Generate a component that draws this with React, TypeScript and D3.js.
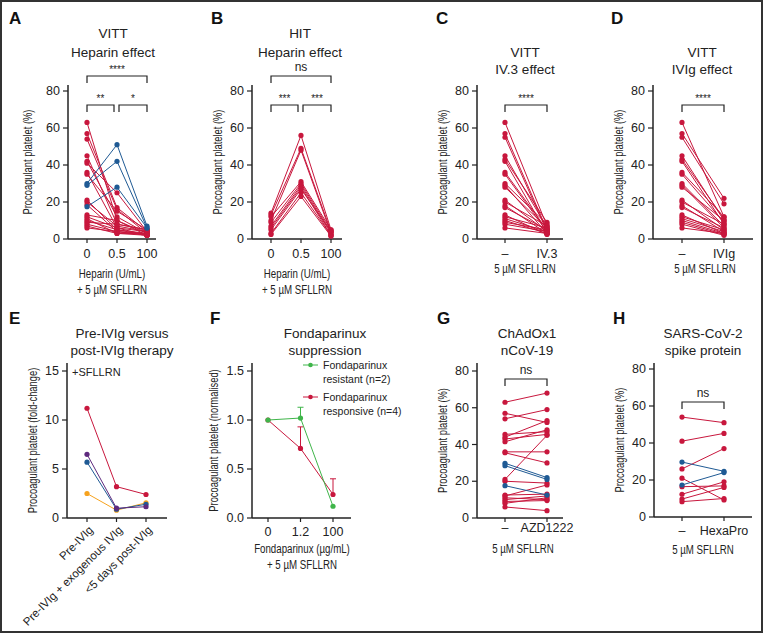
import React from 'react';
import * as d3 from 'd3';

// Colours picked from the figure.
const RED = '#c8173d';
const BLUE = '#1f5a94';
const GREEN = '#3fb54a';
const ORANGE = '#f6a21e';
const PURPLE = '#5e2a7e';
const INK = '#222';

const FONT = '"Liberation Sans", Arial, Helvetica, sans-serif';
// no condensed face installed, so axis titles are squeezed horizontally
const SQUEEZE = 0.72;

// ---- data ----
const heparinDoses = ['0', '0.5', '100'];
// VITT heparin effect: [0, 0.5, 100 U/mL]
const vittHeparinRed = [
  [63, 10, 3], [57, 17, 4], [54, 16, 3], [45, 8, 5], [42, 12, 3], [41, 25, 4], [36, 6, 2],
  [35, 15, 5], [21, 5, 2], [20, 7, 4], [18.5, 4, 3], [13, 10, 2], [12, 6, 4], [11, 3, 2],
  [10, 5, 3], [9, 8, 5], [8, 4, 2], [7, 3, 3], [6, 4, 2],
];
const vittHeparinBlue = [[30, 51, 7], [29, 42, 6], [17.5, 28, 6]];
// HIT heparin effect
const hitHeparin = [
  [14, 56, 5], [13, 49, 4], [10, 48, 3], [12, 31, 5], [9, 30, 4], [7, 29, 3], [6, 28, 2],
  [5, 27, 4], [3, 25, 2], [2.5, 23, 1.5],
];

const iv3Groups = ['–', 'IV.3'];
const vittIV3 = [
  [63, 7], [57, 5], [55, 4], [45, 6], [43, 9], [42, 3], [36, 5], [35, 4], [30, 8], [29, 3],
  [28, 6], [21, 4], [20, 7], [18, 3], [17, 5], [13, 2.5], [12, 6], [11, 4], [10, 3], [9, 5],
  [8, 4], [6, 3],
];

const ivigGroups = ['–', 'IVIg'];
const vittIVIg = [
  [63, 12], [57, 22], [55, 19], [45, 10], [43, 11], [42, 8], [36, 12], [35, 9], [30, 7], [29, 6],
  [28, 10], [21, 5], [20, 8], [18, 4], [17, 6], [13, 3], [12, 5], [11, 4], [10, 3], [9, 2.5],
  [8, 2], [6, 3],
];

const therapyGroups = ['Pre-IVIg', 'Pre-IVIg + exogenous IVIg', '<5 days post-IVIg'];
const therapyFoldChange = [
  [2.5, 0.8, 1.55],
  [5.7, 0.9, 1.4],
  [6.5, 1.0, 1.15],
  [11.2, 3.2, 2.4],
];
const therapyColors = [ORANGE, BLUE, PURPLE, RED];

const fondaDoses = ['0', '1.2', '100'];
const fondaResistant = [1.0, 1.02, 0.12];
const fondaResistantErr = [0, 0.11, 0];
const fondaResponsive = [1.0, 0.71, 0.24];
const fondaResponsiveErr = [0, 0.22, 0.16];

const chadoxGroups = ['–', 'AZD1222'];
const chadoxRed = [
  [63, 68], [57, 52], [54, 59], [45.5, 47], [44, 53], [43, 45.5], [41.5, 48], [36, 36], [35.5, 30],
  [21, 45], [20, 19], [12.5, 13], [11, 10], [10, 12], [9, 9.5], [8, 11], [6, 4], [12, 18],
];
const chadoxBlue = [[29.8, 22], [28.5, 21], [17.6, 12.5]];

const spikeGroups = ['–', 'HexaPro'];
const spikeRed = [
  [54, 51], [41, 45.2], [26, 37], [21, 9.2], [16.4, 16.8], [12.3, 19], [9.7, 16], [8.3, 10],
];
const spikeBlue = [[29.7, 24.7], [17.3, 24]];

const pctTicks = [0, 20, 40, 60, 80];
const foldTicks = [0, 5, 10, 15];
const normTicks = [0, 0.5, 1.0, 1.5];

// ---- pieces ----
type Lin = d3.ScaleLinear<number, number>;
type Pt = d3.ScalePoint<string>;

function Narrow(props: { x: number; y: number; t: string; rotate?: boolean; size?: number }) {
  const rot = props.rotate ? ' rotate(-90)' : '';
  return (
    <g transform={`translate(${props.x},${props.y})${rot} scale(${SQUEEZE},1)`}>
      <text x={0} y={0} textAnchor="middle" dominantBaseline={props.rotate ? 'central' : undefined}
        fontFamily={FONT} fontSize={props.size ?? 13.5} fill={INK}>{props.t}</text>
    </g>
  );
}

function Frame(props: {
  x: Pt; y: Lin; left: number; right: number; top: number; ticks: number[];
  fmt?: (v: number) => string; yLabel: string; yLabelX: number; tickDy: number; rotate?: boolean;
}) {
  const { x, y, left, right, top, ticks, fmt, yLabel, yLabelX, tickDy, rotate } = props;
  const bottom = y(0);
  const midY = (top + bottom) / 2;
  return (
    <g>
      <line x1={left} x2={left} y1={top} y2={bottom} stroke={INK} strokeWidth={1.5} />
      <line x1={left} x2={right} y1={bottom} y2={bottom} stroke={INK} strokeWidth={1.5} />
      {ticks.map((t) => (
        <g key={t}>
          <line x1={left - 5} x2={left} y1={y(t)} y2={y(t)} stroke={INK} strokeWidth={1.2} />
          <text x={left - 8} y={y(t)} textAnchor="end" dominantBaseline="central"
            fontFamily={FONT} fontSize={12.5} fill={INK}>{fmt ? fmt(t) : t}</text>
        </g>
      ))}
      {x.domain().map((c) => (
        <g key={c}>
          <line x1={x(c)} x2={x(c)} y1={bottom} y2={bottom + 4} stroke={INK} strokeWidth={1.2} />
          {rotate ? (
            <text transform={`translate(${x(c)! + 4},${bottom + 10}) rotate(-45)`} textAnchor="end"
              dominantBaseline="central" fontFamily={FONT} fontSize={11.5} fill={INK}>{c}</text>
          ) : (
            <text x={x(c)} y={bottom + tickDy} textAnchor="middle" fontFamily={FONT}
              fontSize={12.5} fill={INK}>{c}</text>
          )}
        </g>
      ))}
      <Narrow x={yLabelX} y={midY} t={yLabel} rotate size={13} />
    </g>
  );
}

function Paired(props: { data: number[][]; x: Pt; y: Lin; color: string; r?: number }) {
  const { data, x, y, color } = props;
  const cats = x.domain();
  const line = d3.line<number>().x((_, i) => x(cats[i])!).y((v) => y(v));
  return (
    <g>
      {data.map((s, i) => (
        <g key={i}>
          <path d={line(s) ?? ''} fill="none" stroke={color} strokeWidth={1} />
          {s.map((v, j) => (
            <circle key={j} cx={x(cats[j])} cy={y(v)} r={props.r ?? 2.6} fill={color} />
          ))}
        </g>
      ))}
    </g>
  );
}

function Bracket(props: { x1: number; x2: number; y: number; label: string; stars?: boolean }) {
  const { x1, x2, y, label, stars } = props;
  return (
    <g>
      <path d={`M${x1},${y + 7}V${y}H${x2}V${y + 7}`} fill="none" stroke={INK} strokeWidth={1.2} />
      <text x={(x1 + x2) / 2} y={stars ? y - 3 : y - 5} textAnchor="middle" fontFamily={FONT}
        fontSize={stars ? 10 : 12} fill={INK}>{label}</text>
    </g>
  );
}

function Lines(props: { x: number; ys: number[]; lines: string[]; size?: number; anchor?: string }) {
  return (
    <g>
      {props.lines.map((l, i) => (
        <text key={i} x={props.x} y={props.ys[i]} textAnchor={props.anchor ?? 'middle'}
          fontFamily={FONT} fontSize={props.size ?? 13.5} fill={INK}>{l}</text>
      ))}
    </g>
  );
}

function XTitle(props: { x: number; ys: number[]; lines: string[] }) {
  return (
    <g>
      {props.lines.map((l, i) => <Narrow key={i} x={props.x} y={props.ys[i]} t={l} />)}
    </g>
  );
}

function Letter(props: { x: number; y: number; t: string }) {
  return (
    <text x={props.x} y={props.y} fontFamily={FONT} fontWeight="bold" fontSize={17} fill="#111">{props.t}</text>
  );
}

export default function App() {
  // top row scales
  const yA = d3.scaleLinear().domain([0, 80]).range([239, 91]);
  const xA = d3.scalePoint<string>().domain(heparinDoses).range([87, 147]);
  const xB = d3.scalePoint<string>().domain(heparinDoses).range([271, 331]);
  const xC = d3.scalePoint<string>().domain(iv3Groups).range([505, 547]);
  const xD = d3.scalePoint<string>().domain(ivigGroups).range([682, 724]);
  // bottom row scales
  const yE = d3.scaleLinear().domain([0, 15]).range([518, 371]);
  const xE = d3.scalePoint<string>().domain(therapyGroups).range([87, 146]);
  const yF = d3.scaleLinear().domain([0, 1.5]).range([518, 371]);
  const xF = d3.scalePoint<string>().domain(fondaDoses).range([268, 333]);
  const yG = d3.scaleLinear().domain([0, 80]).range([518, 371]);
  const xG = d3.scalePoint<string>().domain(chadoxGroups).range([505, 547]);
  const yH = d3.scaleLinear().domain([0, 80]).range([517, 369]);
  const xH = d3.scalePoint<string>().domain(spikeGroups).range([682, 724]);

  const fLine = d3.line<number>().x((_, i) => xF(fondaDoses[i])!).y((v) => yF(v));
  const yLabel = 'Procoagulant platelet (%)';

  return (
    <svg width={763} height={633} style={{ position: 'absolute', left: 0, top: 0, background: '#fff' }}>
      <rect x={1} y={1} width={761} height={631} fill="#fff" stroke="#333" strokeWidth={2} />

      {/* A */}
      <Letter x={9} y={24} t="A" />
      <Lines x={113} ys={[38, 57]} lines={['VITT', 'Heparin effect']} />
      <Frame x={xA} y={yA} left={68} right={156} top={85} ticks={pctTicks} yLabel={yLabel} yLabelX={27} tickDy={19} />
      <Paired data={vittHeparinRed} x={xA} y={yA} color={RED} />
      <Paired data={vittHeparinBlue} x={xA} y={yA} color={BLUE} />
      <Bracket x1={87} x2={147} y={76} label="****" stars />
      <Bracket x1={87} x2={114} y={105} label="**" stars />
      <Bracket x1={119} x2={147} y={105} label="*" stars />
      <XTitle x={112} ys={[278, 294]} lines={['Heparin (U/mL)', '+ 5 µM SFLLRN']} />

      {/* B */}
      <Letter x={211} y={24} t="B" />
      <Lines x={300} ys={[38, 57]} lines={['HIT', 'Heparin effect']} />
      <Frame x={xB} y={yA} left={252} right={342} top={85} ticks={pctTicks} yLabel={yLabel} yLabelX={217} tickDy={19} />
      <Paired data={hitHeparin} x={xB} y={yA} color={RED} />
      <Bracket x1={271} x2={331} y={76} label="ns" />
      <Bracket x1={271} x2={298} y={105} label="***" stars />
      <Bracket x1={303} x2={331} y={105} label="***" stars />
      <XTitle x={297} ys={[278, 294]} lines={['Heparin (U/mL)', '+ 5 µM SFLLRN']} />

      {/* C */}
      <Letter x={436} y={24} t="C" />
      <Lines x={525} ys={[57, 74]} lines={['VITT', 'IV.3 effect']} />
      <Frame x={xC} y={yA} left={477} right={563} top={85} ticks={pctTicks} yLabel={yLabel} yLabelX={442} tickDy={19} />
      <Paired data={vittIV3} x={xC} y={yA} color={RED} />
      <Bracket x1={505} x2={547} y={105} label="****" stars />
      <XTitle x={525} ys={[273]} lines={['5 µM SFLLRN']} />

      {/* D */}
      <Letter x={611} y={24} t="D" />
      <Lines x={702} ys={[57, 74]} lines={['VITT', 'IVIg effect']} />
      <Frame x={xD} y={yA} left={653} right={753} top={85} ticks={pctTicks} yLabel={yLabel} yLabelX={618} tickDy={19} />
      <Paired data={vittIVIg} x={xD} y={yA} color={RED} />
      <Bracket x1={682} x2={724} y={105} label="****" stars />
      <XTitle x={705} ys={[273]} lines={['5 µM SFLLRN']} />

      {/* E */}
      <Letter x={9} y={324} t="E" />
      <Lines x={122} ys={[338, 355]} lines={['Pre-IVIg versus', 'post-IVIg therapy']} />
      <Frame x={xE} y={yE} left={67} right={167} top={363} ticks={foldTicks}
        yLabel="Procoagulant platelet (fold-change)" yLabelX={32} tickDy={19} rotate />
      {therapyFoldChange.map((s, i) => (
        <Paired key={i} data={[s]} x={xE} y={yE} color={therapyColors[i]} />
      ))}
      <text x={72} y={376} fontFamily={FONT} fontSize={11} fill={INK}>+SFLLRN</text>

      {/* F */}
      <Letter x={210} y={324} t="F" />
      <Lines x={325} ys={[338, 355]} lines={['Fondaparinux', 'suppression']} />
      <Frame x={xF} y={yF} left={252} right={351} top={363} ticks={normTicks} fmt={(v) => v.toFixed(1)}
        yLabel="Procoagulant platelet (normalised)" yLabelX={213} tickDy={18} />
      {[
        { v: fondaResponsive, e: fondaResponsiveErr, c: RED },
        { v: fondaResistant, e: fondaResistantErr, c: GREEN },
      ].map((s, k) => (
        <g key={k}>
          <path d={fLine(s.v) ?? ''} fill="none" stroke={s.c} strokeWidth={1} />
          {s.v.map((v, i) => {
            const cx = xF(fondaDoses[i])!;
            return (
              <g key={i}>
                {s.e[i] > 0 && (
                  <path d={`M${cx},${yF(v)}V${yF(v + s.e[i])}M${cx - 3},${yF(v + s.e[i])}H${cx + 3}`}
                    fill="none" stroke={s.c} strokeWidth={1} />
                )}
                <circle cx={cx} cy={yF(v)} r={2.6} fill={s.c} />
              </g>
            );
          })}
        </g>
      ))}
      <line x1={303} x2={318} y1={365} y2={365} stroke={GREEN} strokeWidth={1} />
      <circle cx={310.5} cy={365} r={2.3} fill={GREEN} />
      <Lines x={323} ys={[369, 383]} lines={['Fondaparinux', 'resistant (n=2)']} size={10.5} anchor="start" />
      <line x1={303} x2={318} y1={397} y2={397} stroke={RED} strokeWidth={1} />
      <circle cx={310.5} cy={397} r={2.3} fill={RED} />
      <Lines x={323} ys={[401, 415]} lines={['Fondaparinux', 'responsive (n=4)']} size={10.5} anchor="start" />
      <XTitle x={302} ys={[553, 569]} lines={['Fondaparinux (µg/mL)', '+ 5 µM SFLLRN']} />

      {/* G */}
      <Letter x={437} y={324} t="G" />
      <Lines x={527} ys={[338, 355]} lines={['ChAdOx1', 'nCoV-19']} />
      <Frame x={xG} y={yG} left={477} right={563} top={363} ticks={pctTicks} yLabel={yLabel} yLabelX={442} tickDy={14} />
      <Paired data={chadoxRed} x={xG} y={yG} color={RED} />
      <Paired data={chadoxBlue} x={xG} y={yG} color={BLUE} />
      <Bracket x1={505} x2={547} y={379} label="ns" />
      <XTitle x={523} ys={[553]} lines={['5 µM SFLLRN']} />

      {/* H */}
      <Letter x={613} y={324} t="H" />
      <Lines x={703} ys={[338, 355]} lines={['SARS-CoV-2', 'spike protein']} />
      <Frame x={xH} y={yH} left={654} right={752} top={363} ticks={pctTicks} yLabel={yLabel} yLabelX={619} tickDy={18} />
      <Paired data={spikeRed} x={xH} y={yH} color={RED} />
      <Paired data={spikeBlue} x={xH} y={yH} color={BLUE} />
      <Bracket x1={682} x2={724} y={402} label="ns" />
      <XTitle x={703} ys={[554]} lines={['5 µM SFLLRN']} />
    </svg>
  );
}
